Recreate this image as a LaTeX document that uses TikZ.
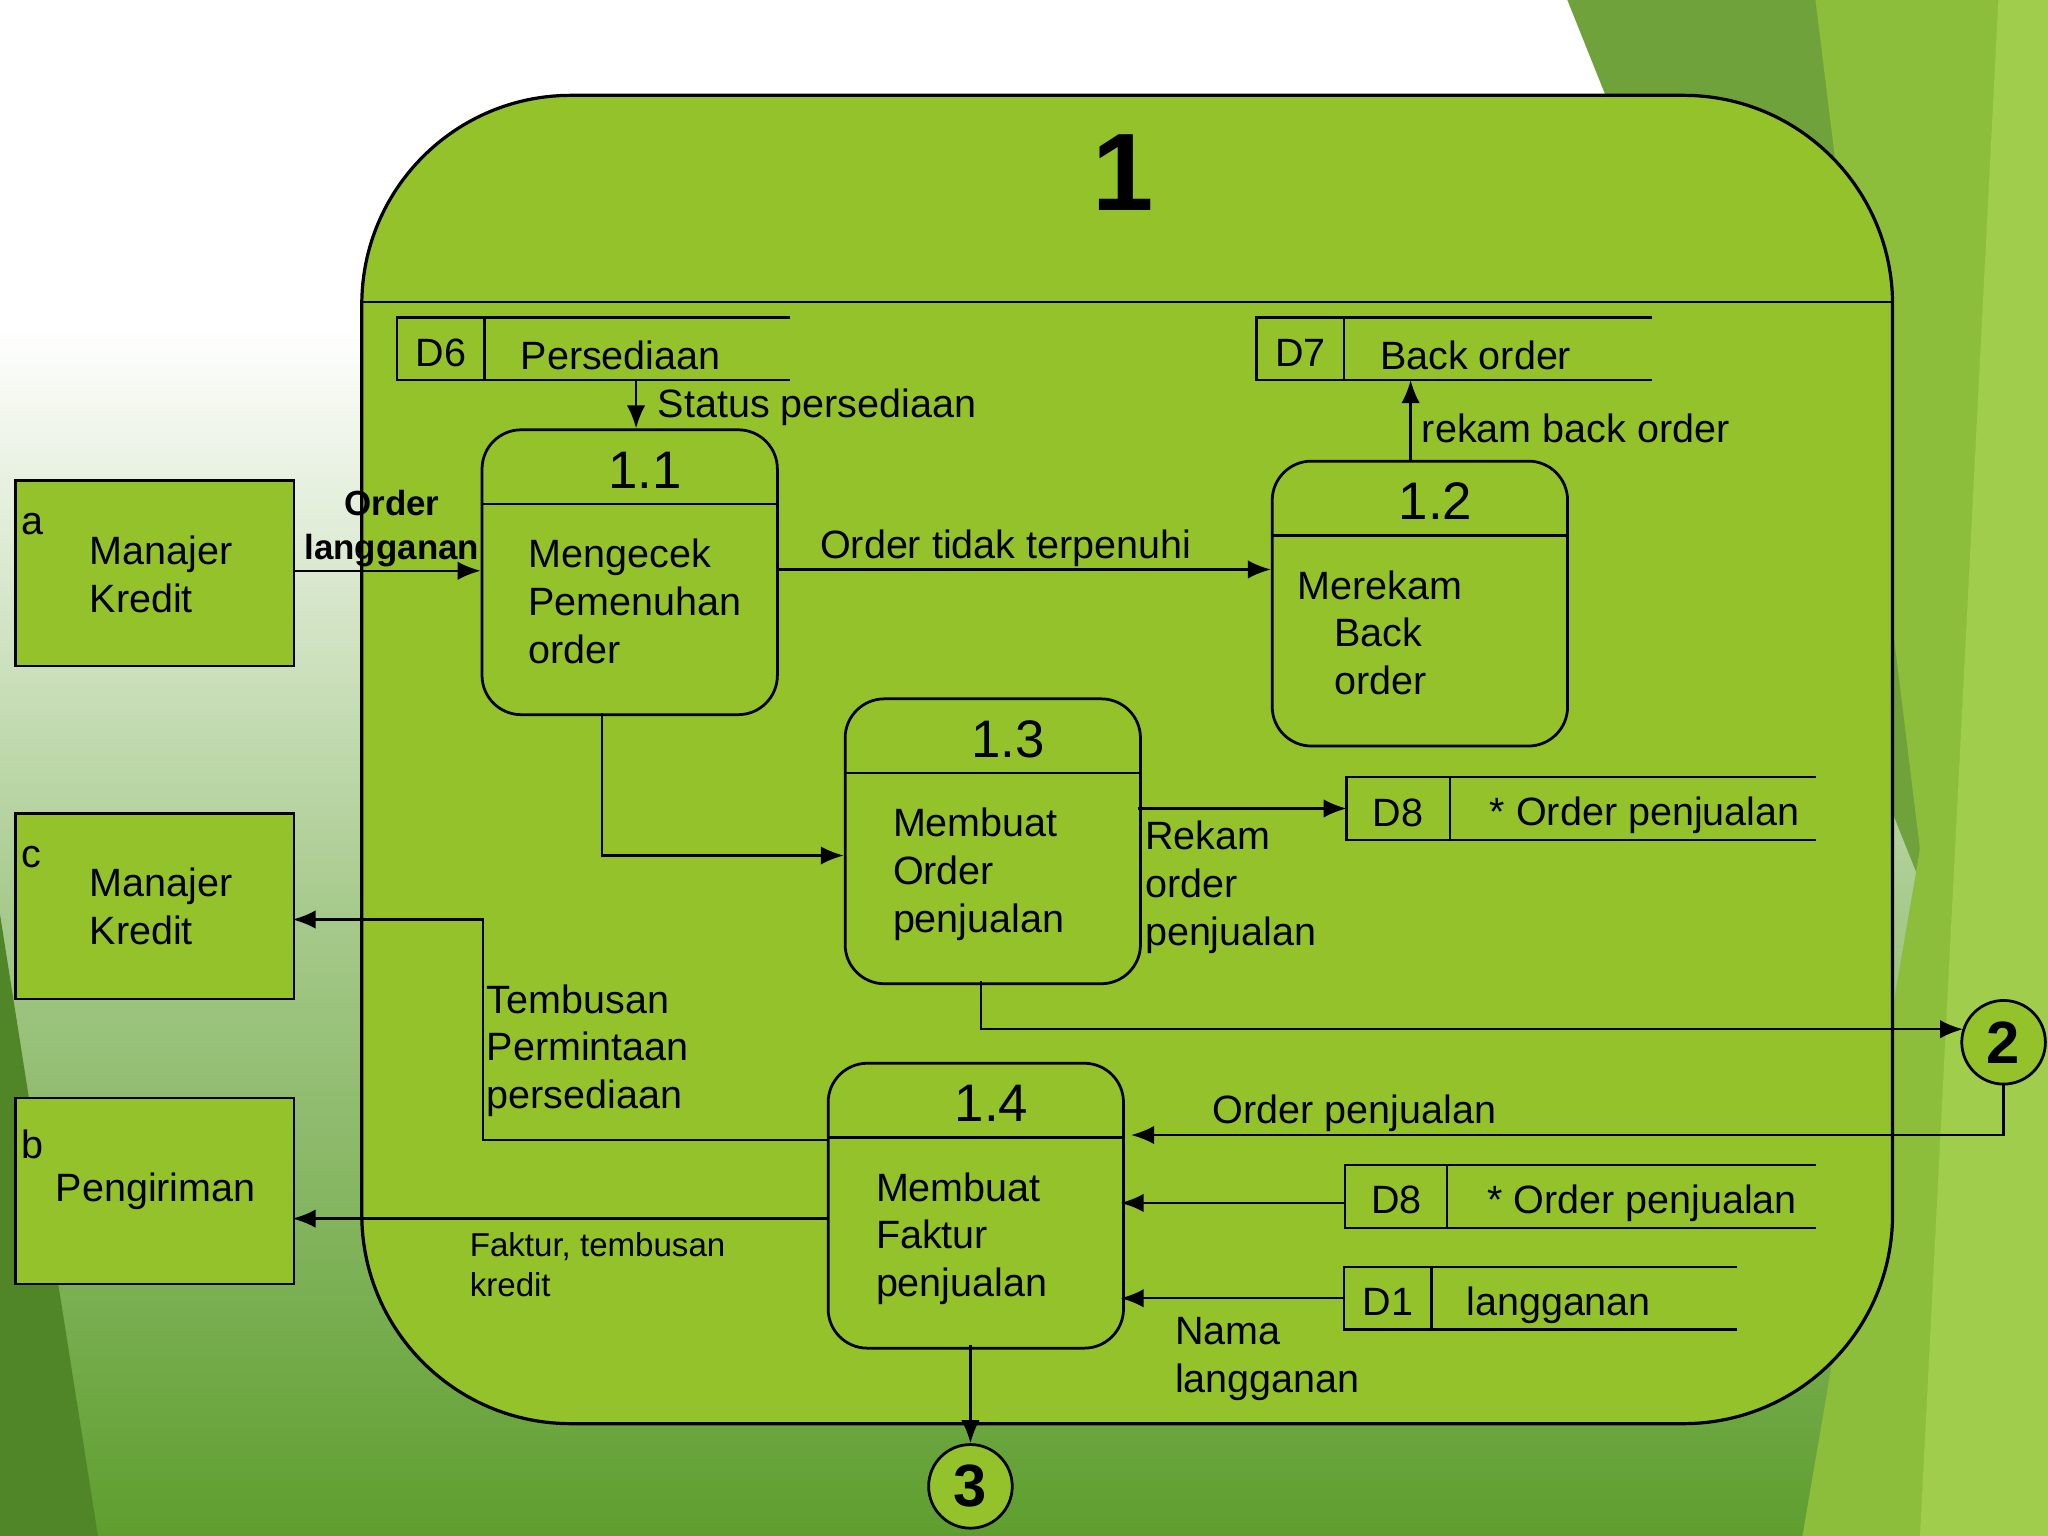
\documentclass[tikz,border=0pt]{standalone}
\usepackage{fontspec}
\setmainfont{Liberation Sans}
\usetikzlibrary{arrows.meta}
\definecolor{boxg}{HTML}{93C22B}
\definecolor{bgg}{HTML}{5E9E2E}
\definecolor{f1}{HTML}{6FA23A}
\definecolor{f2}{HTML}{8CBE3C}
\definecolor{f3}{HTML}{A0CD4B}
\begin{document}
\begin{tikzpicture}[x=0.01cm,y=-0.01cm,
  txt/.style={font=\fontsize{8.6}{10.4}\selectfont, inner sep=0pt},
  ar/.style={draw, -{Latex[length=5pt,width=4pt]}, line width=0.5pt},
  ln/.style={line width=0.5pt},
  ext/.style={draw, fill=boxg, line width=0.5pt, minimum width=2.13cm, minimum height=1.42cm, anchor=north west, inner sep=0pt},
  proc/.style={draw, fill=boxg, rounded corners=0.3cm, line width=0.6pt, minimum width=2.26cm, minimum height=2.18cm, anchor=north west, inner sep=0pt},
  circ/.style={draw, circle, fill=boxg, line width=0.6pt, minimum size=0.64cm, inner sep=0pt, font=\bfseries\fontsize{13}{14}\selectfont},
  num/.style={font=\fontsize{11.5}{12}\selectfont, inner sep=0pt}]
\useasboundingbox (0,0) rectangle (1568,1176);
% background
\fill[white] (0,0) rectangle (1568,250);
\shade[top color=white, bottom color=white!45!bgg] (0,250) rectangle (1568,700);
\shade[top color=white!45!bgg, bottom color=bgg] (0,700) rectangle (1568,1176);
\fill[bgg!85!black] (0,700) -- (75,1176) -- (0,1176) -- cycle;
\fill[f1] (1200,0) -- (1568,0) -- (1568,1176) -- (1420,1176) -- (1480,700) -- cycle;
\fill[f2] (1390,0) -- (1568,0) -- (1568,1176) -- (1380,1176) -- (1470,650) -- cycle;
\fill[f3] (1530,0) -- (1568,0) -- (1568,1176) -- (1470,1176) -- cycle;
% main frame
\draw[fill=boxg, line width=0.7pt, rounded corners=1.6cm] (277,1090) rectangle (1449,73);
\draw[ln] (277,231) -- (1449,231);
\node[font=\bfseries\fontsize{24}{26}\selectfont] (title) at (860,132) {1};
% externals
\node[ext] (a) at (11,367) {};
\node[txt, anchor=north west] at (16,392) {a};
\node[txt, align=left, anchor=west] at (68,440) {Manajer\\Kredit};
\node[ext] (c) at (11,622) {};
\node[txt, anchor=north west] at (16,647) {c};
\node[txt, align=left, anchor=west] at (68,694) {Manajer\\Kredit};
\node[ext] (b) at (11,840) {};
\node[txt, anchor=north west] at (16,864) {b};
\node[txt, anchor=west] at (42,912) {Pengiriman};
% processes
\newcommand{\myproc}[7]{%
  \node[proc] (#1) at (#2,#3) {};
  \draw[ln] (#2,#3+58) -- (#2+226,#3+58);
  \node[num] at (#2+#6,#3+32) {#4};
  \node[txt, align=left, anchor=north west] at (#2+#7,#3+84) {#5};}
\myproc{p11}{368}{328}{1.1}{Mengecek\\Pemenuhan\\order}{126}{36}
\myproc{p12}{973}{352}{1.2}{Merekam\\\hspace*{0.28cm}Back\\\hspace*{0.28cm}order}{126}{20}
\myproc{p13}{646}{534}{1.3}{Membuat\\Order\\penjualan}{126}{37}
\myproc{p14}{633}{813}{1.4}{Membuat\\Faktur\\penjualan}{126}{37}
% data stores
\newcommand{\ds}[8]{%
  \coordinate (#1) at (#2,#3+24);
  \draw[ln] (#5,#3) -- (#2,#3) -- (#2,#3+48) -- (#5,#3+48);
  \draw[ln] (#4,#3) -- (#4,#3+48);
  \node[txt, anchor=center] at ({(#2+#4)/2},#3+27) {#6};
  \node[txt, anchor=west] at (#4+#8,#3+29) {#7};}
\ds{d6}{304}{243}{371}{605}{D6}{Persediaan}{27}
\ds{d7}{962}{243}{1029}{1265}{D7}{Back order}{27}
\ds{d8a}{1031}{595}{1110}{1390}{D8}{* Order penjualan}{30}
\ds{d8b}{1030}{892}{1108}{1390}{D8}{* Order penjualan}{30}
\ds{d1}{1029}{970}{1096}{1330}{D1}{langganan}{26}
% circles
\node[circ] (c2) at (1534,798) {2};
\node[circ] (c3) at (743,1138) {3};
% connectors
\draw[ar] (224,437) -- (368,437);
\node[font=\bfseries\fontsize{7.6}{9.6}\selectfont, align=center, inner sep=0pt] at (300,405) {Order\\langganan};
\draw[ar] (487,291) -- (487,328);
\node[txt, anchor=west] at (503,312) {Status persediaan};
\draw[ar] (594,436) -- (973,436);
\node[txt] at (770,420) {Order tidak terpenuhi};
\draw[ar] (1080,352) -- (1080,291);
\node[txt, anchor=west] at (1088,328) {rekam back order};
\draw[ar] (461,546) -- (461,655) -- (646,655);
\draw[ar] (871,619) -- (1031,619);
\node[txt, align=left, anchor=north west] at (876,628) {Rekam\\order\\penjualan};
\draw[ar] (751,751) -- (751,788) -- (1503,788);
\draw[ar] (c2.south) -- (1534,869) -- (866,869);
\node[txt] at (1037,852) {Order penjualan};
\draw[ar] (1030,921) -- (858,921);
\draw[ar] (1029,994) -- (858,994);
\node[txt, align=left, anchor=north west] at (899,1008) {Nama\\langganan};
\draw[ar] (743,1030) -- (c3.north);
\draw[ar] (633,873) -- (370,873) -- (370,704) -- (224,704);
\node[txt, align=left, anchor=north west] at (372,753) {Tembusan\\Permintaan\\persediaan};
\draw[ar] (633,933) -- (224,933);
\node[font=\fontsize{7.2}{8.6}\selectfont, inner sep=0pt, align=left, anchor=north west] at (359,943) {Faktur, tembusan\\kredit};
\end{tikzpicture}
\end{document}
